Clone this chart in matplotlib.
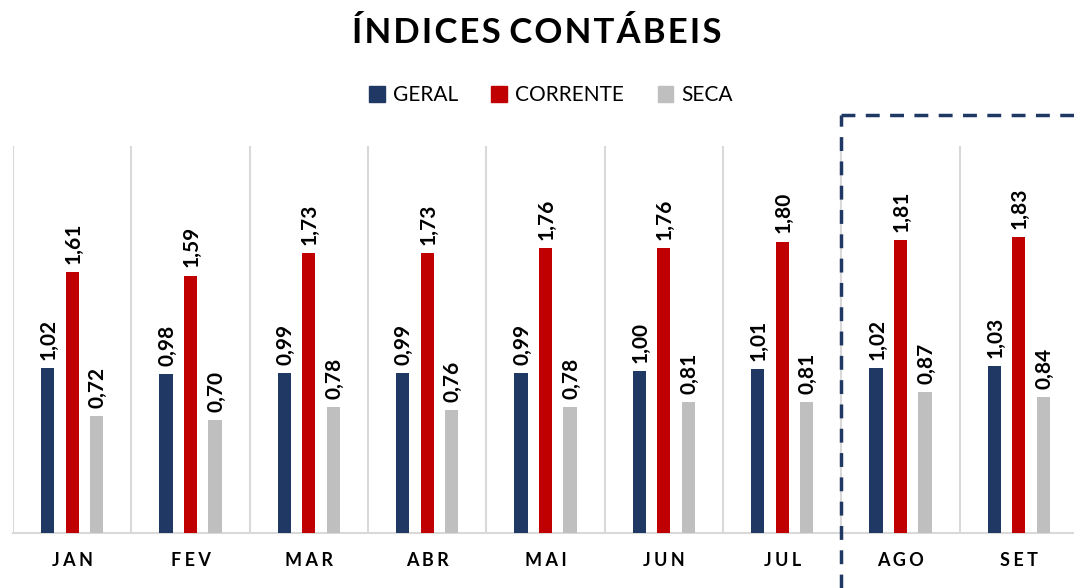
import numpy as np
import matplotlib.pyplot as plt
from matplotlib.patches import Patch

# Data
meses = ['JAN', 'FEV', 'MAR', 'ABR', 'MAI', 'JUN', 'JUL', 'AGO', 'SET']
geral = [1.02, 0.98, 0.99, 0.99, 0.99, 1.00, 1.01, 1.02, 1.03]
corrente = [1.61, 1.59, 1.73, 1.73, 1.76, 1.76, 1.80, 1.81, 1.83]
seca = [0.72, 0.70, 0.78, 0.76, 0.78, 0.81, 0.81, 0.87, 0.84]

cores = ['#203864', '#C00000', '#BFBFBF']
nomes = ['GERAL', 'CORRENTE', 'SECA']

plt.rcParams['font.family'] = ['Lato', 'DejaVu Sans']

fig = plt.figure(figsize=(10.74, 5.88), dpi=100)
ax = fig.add_axes([13 / 1074, 55 / 588, 1065 / 1074, 387 / 588])

x = np.arange(len(meses))
largura = 0.11
desloc = 0.207
for i, serie in enumerate([geral, corrente, seca]):
    pos = x + (i - 1) * desloc
    ax.bar(pos, serie, width=largura, color=cores[i], zorder=3)
    for xp, v in zip(pos, serie):
        ax.text(xp + 0.01, v + 0.05, f'{v:.2f}'.replace('.', ','), rotation=90,
                ha='center', va='bottom', fontsize=15, fontweight='bold',
                color='#000000')

ax.set_xlim(-0.5, len(meses) - 0.5)
ax.set_ylim(0, 2.39)

# separadores verticais entre categorias
for b in np.arange(-0.5, len(meses), 1.0):
    ax.axvline(b, color='#D9D9D9', lw=1.5, zorder=1)

for s in ['top', 'right', 'left']:
    ax.spines[s].set_visible(False)
ax.spines['bottom'].set_color('#D9D9D9')
ax.spines['bottom'].set_linewidth(1.5)
ax.set_yticks([])
ax.set_xticks(x)
ax.set_xticklabels(['\u2009\u200a'.join(m) for m in meses], fontsize=13,
                   fontweight='bold')
ax.tick_params(axis='x', length=0, pad=14)

# destaque tracejado (AGO-SET)
ax.plot([6.5, 6.5], [-0.34, 2.58], color='#203864', lw=2.5,
        ls=(0, (4, 3)), clip_on=False, zorder=5)
ax.plot([6.5, 9.2], [2.58, 2.58], color='#203864', lw=2.5,
        ls=(0, (4, 3)), clip_on=False, zorder=5)

fig.text(0.5, 0.944, '\u200a'.join('ÍNDICES') + ' ' + '\u200a'.join('CONTÁBEIS'),
         ha='center', va='center', fontsize=25, fontweight='bold')

handles = [Patch(color=c, label=n) for c, n in zip(cores, nomes)]
fig.legend(handles=handles, loc='center', bbox_to_anchor=(0.513, 0.838),
           ncol=3, frameon=False, fontsize=15, handlelength=0.75,
           handleheight=0.75, handletextpad=0.4, columnspacing=1.6)

fig.savefig('out.png', dpi=100)
